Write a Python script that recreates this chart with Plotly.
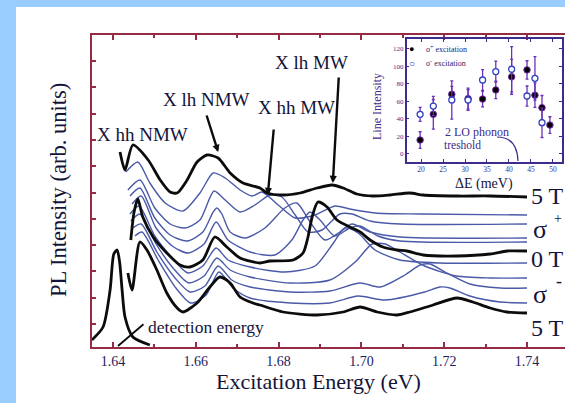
import plotly.graph_objects as go

# ---------------- main spectra (energy in eV, intensity in arb. units) ----------------
E_s5p = [1.6417, 1.6429, 1.6448, 1.6485, 1.6514, 1.6538, 1.6555, 1.6579, 1.6603, 1.6627, 1.6654, 1.6683, 1.6714,
         1.6755, 1.6772, 1.6811, 1.6852, 1.6893, 1.6929, 1.6956, 1.6989, 1.7028, 1.7069, 1.7117, 1.7149, 1.7231,
         1.7311, 1.7400]
I_s5p = [195, 177, 202, 187, 167, 155, 154, 167, 185, 192, 189, 174, 164, 159, 154, 152, 154, 159, 162, 159, 153,
         151, 152, 154, 152, 151, 151, 150]

E_s4p = [1.6431, 1.6460, 1.6489, 1.6526, 1.6569, 1.6610, 1.6642, 1.6671, 1.6707, 1.6736, 1.6760, 1.6799, 1.6840,
         1.6888, 1.6936, 1.6972, 1.7033, 1.7142, 1.7400]
I_s4p = [175, 185, 164, 144, 136, 154, 174, 169, 157, 151, 155, 142, 129, 132, 141, 138, 134, 133, 132]

E_s3p = [1.6436, 1.6465, 1.6501, 1.6538, 1.6574, 1.6610, 1.6644, 1.6671, 1.6707, 1.6743, 1.6779, 1.6808, 1.6840,
         1.6871, 1.6905, 1.6948, 1.6977, 1.7021, 1.7093, 1.7400]
I_s3p = [157, 167, 139, 123, 119, 127, 156, 147, 135, 142, 152, 150, 132, 115, 117, 133, 133, 126, 123, 123]

E_s2p = [1.6441, 1.6465, 1.6501, 1.6538, 1.6579, 1.6617, 1.6642, 1.6651, 1.6663, 1.6683, 1.6719, 1.6767, 1.6815,
         1.6844, 1.6876, 1.6912, 1.6948, 1.6977, 1.7021, 1.7093, 1.7400]
I_s2p = [151, 159, 129, 112, 106, 115, 135, 139, 133, 115, 109, 119, 139, 144, 125, 107, 115, 123, 115, 110, 109]

E_s1p = [1.6446, 1.6468, 1.6504, 1.6543, 1.6581, 1.6620, 1.6649, 1.6678, 1.6731, 1.6791, 1.6832, 1.6859, 1.6876,
         1.6900, 1.6936, 1.6972, 1.6997, 1.7040, 1.7093, 1.7400]
I_s1p = [143, 151, 119, 101, 94, 103, 125, 107, 95, 92, 107, 127, 135, 127, 111, 119, 121, 111, 106, 105]

E_0T = [1.6443, 1.6451, 1.6460, 1.6472, 1.6497, 1.6530, 1.6562, 1.6586, 1.6617, 1.6646, 1.6675, 1.6707, 1.6755,
        1.6779, 1.6835, 1.6859, 1.6871, 1.6881, 1.6895, 1.6917, 1.6941, 1.6972, 1.6997, 1.7021, 1.7052, 1.7086,
        1.7110, 1.7149, 1.7231, 1.7311, 1.7352, 1.7400]
I_0T = [107, 135, 148, 130, 110, 94, 82, 80, 87, 110, 100, 89, 84, 86, 87, 94, 110, 130, 145, 140, 127, 120, 115,
        107, 100, 97, 96, 92, 91, 93, 96, 96]

E_s1m = [1.6441, 1.6463, 1.6501, 1.6543, 1.6581, 1.6617, 1.6649, 1.6678, 1.6731, 1.6815, 1.6888, 1.6929, 1.6960,
         1.6992, 1.7033, 1.7093, 1.7190, 1.7400]
I_s1m = [133, 141, 111, 89, 74, 81, 99, 87, 80, 75, 81, 102, 119, 114, 97, 87, 84, 84]

E_s2m = [1.6443, 1.6465, 1.6504, 1.6545, 1.6583, 1.6620, 1.6651, 1.6683, 1.6731, 1.6828, 1.6924, 1.6985, 1.7026,
         1.7057, 1.7093, 1.7153, 1.7229, 1.7311, 1.7400]
I_s2m = [126, 133, 103, 79, 64, 71, 89, 77, 70, 64, 67, 85, 103, 103, 95, 81, 71, 69, 69]

E_s3m = [1.6448, 1.6468, 1.6506, 1.6550, 1.6586, 1.6622, 1.6654, 1.6687, 1.6731, 1.6828, 1.6924, 1.6997, 1.7045,
         1.7105, 1.7142, 1.7166, 1.7202, 1.7262, 1.7335, 1.7400]
I_s3m = [119, 123, 95, 69, 55, 61, 81, 67, 60, 55, 56, 64, 60, 72, 82, 83, 75, 63, 59, 59]

E_s4m = [1.6453, 1.6470, 1.6509, 1.6552, 1.6588, 1.6625, 1.6656, 1.6690, 1.6731, 1.6828, 1.6924, 1.6992, 1.7057,
         1.7153, 1.7190, 1.7214, 1.7262, 1.7335, 1.7400]
I_s4m = [111, 115, 87, 59, 44, 52, 75, 59, 49, 44, 44, 51, 47, 55, 60, 59, 51, 45, 44]

E_s5m = [1.6436, 1.6446, 1.6465, 1.6482, 1.6506, 1.6530, 1.6555, 1.6569, 1.6603, 1.6634, 1.6658, 1.6683, 1.6707,
         1.6738, 1.6755, 1.6811, 1.6893, 1.6956, 1.6997, 1.7038, 1.7086, 1.7117, 1.7173, 1.7231, 1.7269, 1.7311,
         1.7352, 1.7400]
I_s5m = [74, 57, 105, 97, 77, 54, 39, 35, 44, 60, 70, 64, 50, 44, 42, 35, 32, 35, 40, 35, 32, 35, 42, 49, 45, 39,
         35, 34]

E_det = [1.6349, 1.6376, 1.6393, 1.6402, 1.6410, 1.6416, 1.6422, 1.6429, 1.6448, 1.6489]
I_det = [7, 20, 57, 93, 97, 85, 57, 30, 10, 2]

# ---------------- inset: line intensity vs Delta E ----------------
dE_plus = [19.8, 22.8, 27.0, 30.7, 34.0, 37.0, 40.6, 44.1, 45.9, 47.5, 49.3]
LI_plus = [15.5, 45, 68, 63, 62.5, 73, 88, 96, 67, 52.6, 32.7]
LI_plus_err = [9.5, 17, 9, 12, 9, 10, 20, 10.5, 14, 14, 9.5]

dE_minus = [19.8, 22.8, 27.0, 30.7, 34.0, 37.0, 40.6, 44.1, 45.9, 47.5]
LI_minus = [45, 54.5, 61.4, 61.4, 84.4, 94, 96.7, 66, 86.3, 35.4]
LI_minus_err = [8, 11, 22, 12, 12, 12, 26, 11.5, 25, 17]

W, H = 565, 403
SERIF = "Liberation Serif, Times New Roman, serif"
THICK = "#0c0c0c"
THIN = "#4a5aa8"
FRAME = "#962c44"
INK = "#14143a"
INSET = "#3c2c8c"


def px(x):
    return x / W


def py(y):
    return 1 - y / H


fig = go.Figure()

thin_sets = [(E_s4p, I_s4p), (E_s3p, I_s3p), (E_s2p, I_s2p), (E_s1p, I_s1p),
             (E_s1m, I_s1m), (E_s2m, I_s2m), (E_s3m, I_s3m), (E_s4m, I_s4m)]
for ex, iy in thin_sets:
    fig.add_trace(go.Scatter(x=ex, y=iy, mode="lines", line=dict(color=THIN, width=1.4, shape="spline", smoothing=0.7),
                             showlegend=False, hoverinfo="skip"))

for ex, iy in [(E_s5p, I_s5p), (E_0T, I_0T), (E_s5m, I_s5m), (E_det, I_det)]:
    fig.add_trace(go.Scatter(x=ex, y=iy, mode="lines", line=dict(color=THICK, width=2.8, shape="spline", smoothing=0.7),
                             showlegend=False, hoverinfo="skip"))

# inset traces
fig.add_trace(go.Scatter(x=dE_plus, y=LI_plus, xaxis="x2", yaxis="y2", mode="markers",
                         marker=dict(size=6.5, color="#000000", line=dict(color="#7a2aa8", width=1)),
                         error_y=dict(type="data", array=LI_plus_err, color="#6a30b8", thickness=1.3, width=1.5),
                         showlegend=False, hoverinfo="skip"))
fig.add_trace(go.Scatter(x=dE_minus, y=LI_minus, xaxis="x2", yaxis="y2", mode="markers",
                         marker=dict(size=6, color="#ffffff", line=dict(color="#3040c0", width=1.3)),
                         error_y=dict(type="data", array=LI_minus_err, color="#6a30b8", thickness=1.3, width=1.5),
                         showlegend=False, hoverinfo="skip"))

annotations = []


def txt(text, x, y, size, color=INK, xanchor="center", angle=0, yanchor="middle"):
    annotations.append(dict(text=text, x=px(x), y=py(y), xref="paper", yref="paper", showarrow=False,
                            xanchor=xanchor, yanchor=yanchor, textangle=angle,
                            font=dict(family=SERIF, size=size, color=color)))


txt("X hh NMW", 142, 135, 19)
txt("X lh NMW", 206, 99, 19)
txt("X hh MW", 296, 108, 19)
txt("X lh MW", 311, 62, 19)
txt("detection energy", 146, 327, 17.5, xanchor="left")
txt("Excitation Energy (eV)", 318, 381, 22)
txt("PL Intensity (arb. units)", 58, 190, 22.5, angle=-90)
txt("5 T", 529, 196, 24, xanchor="left")
txt("σ", 531, 229, 26, xanchor="left")
txt("+", 552, 218, 14, xanchor="left")
txt("0 T", 529, 259, 24, xanchor="left")
txt("σ", 531, 294, 26, xanchor="left")
txt("-", 554, 281, 18, xanchor="left")
txt("5 T", 529, 328, 24, xanchor="left")

# inset texts
txt("ΔE (meV)", 484, 184, 14)
txt("Line Intensity", 377, 106, 12, angle=-90, color=INSET)
txt("●", 411.5, 49, 9, color="#000000")
txt("○", 411.5, 63, 10, color="#3040c0")
txt("σ<sup>+</sup> excitation", 424, 49, 8, color="#2a1a6a", xanchor="left")
txt("σ<sup>-</sup> excitation", 424, 63, 8, color="#2a1a6a", xanchor="left")
txt("2 LO phonon", 443, 132, 12, color=INSET, xanchor="left")
txt("treshold", 442, 145, 11.5, color=INSET, xanchor="left")

# pointer arrows (data-anchored heads)
arrow = dict(xref="x", yref="y", showarrow=True, text="", arrowcolor=THICK, arrowwidth=2.4,
             arrowhead=2, arrowsize=0.6)
annotations.append(dict(arrow, x=1.6654, y=195, ax=-12, ay=-38))
annotations.append(dict(arrow, x=1.6774, y=152, ax=6, ay=-67))
annotations.append(dict(arrow, x=1.6931, y=164, ax=6, ay=-107))
annotations.append(dict(arrow, x=1.6412, y=1, ax=27, ay=-23, arrowhead=0, arrowwidth=1.8))

shapes = [
    dict(type="rect", xref="paper", yref="paper", x0=px(16), x1=1.0, y0=0, y1=py(7),
         fillcolor="#ffffff", line=dict(width=0), layer="below"),
    dict(type="path", xref="paper", yref="paper",
         path=f"M {px(497)},{py(137)} Q {px(517)},{py(137)} {px(518)},{py(161)}",
         line=dict(color=INSET, width=1.2)),
]

fig.update_layout(
    width=W, height=H,
    margin=dict(l=0, r=0, t=0, b=0),
    paper_bgcolor="#99ccff",
    plot_bgcolor="rgba(0,0,0,0)",
    showlegend=False,
    annotations=annotations,
    shapes=shapes,
    xaxis=dict(domain=[px(92), 1.0], range=[1.63493, 1.74918], anchor="y",
               tick0=1.64, dtick=0.02, tickformat=".2f", ticks="inside", ticklen=5, tickwidth=1.5,
               tickcolor=FRAME, minor=dict(dtick=0.01, tick0=1.64, ticks="inside", ticklen=3, tickcolor=FRAME),
               showline=True, mirror="ticks", linecolor=FRAME, linewidth=2,
               showgrid=False, zeroline=False, ticklabelstandoff=0,
               tickfont=dict(family=SERIF, size=14, color="#1c1c60")),
    yaxis=dict(domain=[py(347), py(35)], range=[0, 312], anchor="x",
               tick0=23, dtick=26.3, ticks="inside", ticklen=4, tickwidth=1.5, tickcolor=FRAME,
               showticklabels=False, showline=True, linecolor=FRAME, linewidth=2,
               showgrid=False, zeroline=False),
    xaxis2=dict(domain=[px(406.7), px(561.7)], range=[16.75, 51.98], anchor="y2",
                tick0=20, dtick=5, ticks="inside", ticklen=3, tickcolor=INSET,
                showline=True, mirror="ticks", linecolor=INSET, linewidth=1.5,
                showgrid=False, zeroline=False, ticklabelstandoff=0,
                tickfont=dict(family=SERIF, size=7.5, color=INSET)),
    yaxis2=dict(domain=[py(161.7), py(39.3)], range=[-9.4, 131.1], anchor="x2",
                tick0=0, dtick=20, ticks="inside", ticklen=3, tickcolor=INSET,
                showline=True, mirror="ticks", linecolor=INSET, linewidth=1.5,
                showgrid=False, zeroline=False,
                tickfont=dict(family=SERIF, size=7, color=INSET)),
)

fig.write_html("out.html")
